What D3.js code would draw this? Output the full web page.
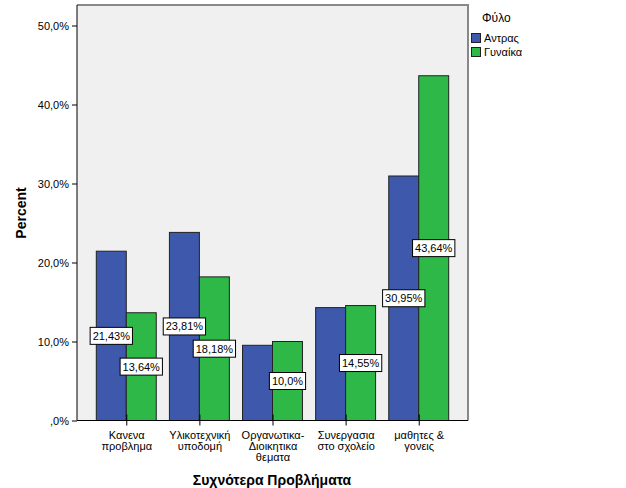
<!DOCTYPE html>
<html><head><meta charset="utf-8">
<script src="https://cdn.jsdelivr.net/npm/d3@7"></script>
<style>
body{margin:0;background:#fff;}
text{font-family:Arial,"Liberation Sans",sans-serif;}
</style></head><body>
<svg id="c" width="626" height="488"></svg>
<script>
const categories = [["Κανενα","προβλημα"],["Υλικοτεχνική","υποδομή"],["Οργανωτικα-","Διοικητικα","θεματα"],["Συνεργασια","στο σχολείο"],["μαθητες &","γονεις"]];
const seriesNames = ["Αντρας","Γυναίκα"];
const maleValues = [21.43, 23.81, 9.52, 14.29, 30.95];
const femaleValues = [13.64, 18.18, 10.0, 14.55, 43.64];
const maleLabels = ["21,43%","23,81%",null,null,"30,95%"];
const femaleLabels = ["13,64%","18,18%","10,0%","14,55%","43,64%"];
const yTicks = [0,10,20,30,40,50];
const yTickLabels = [",0%","10,0%","20,0%","30,0%","40,0%","50,0%"];
const colors = ["#3e58ac","#2eb848"];

const svg = d3.select("#c");
const L=77,R=468,T=5,B=420.5;
const y = d3.scaleLinear().domain([0,50]).range([B,25.5]);
const x = d3.scaleBand().domain(d3.range(categories.length)).range([L,R]).paddingInner(0.18).paddingOuter(0.264);
const xs = d3.scaleBand().domain([0,1]).range([0,x.bandwidth()]);

svg.append("rect").attr("x",L).attr("y",T).attr("width",R-L).attr("height",B-T).attr("fill","#f0f0f0");
// top/right gray border
svg.append("path").attr("d",`M${L},${T}H${R}V${B}`).attr("fill","none").attr("stroke","#888").attr("stroke-width",2);

const series=[maleValues,femaleValues];
const labels=[maleLabels,femaleLabels];
series.forEach((vals,s)=>{
  svg.append("g").selectAll("rect").data(vals).join("rect")
    .attr("x",(d,i)=>x(i)+xs(s)).attr("width",xs.bandwidth())
    .attr("y",d=>y(d)).attr("height",d=>B-y(d))
    .attr("fill",colors[s]).attr("stroke","#222").attr("stroke-width",1);
});

// axes
const yAxis = d3.axisLeft(y).tickValues(yTicks).tickFormat((d,i)=>yTickLabels[i]).tickSize(5).tickPadding(3);
const gy = svg.append("g").attr("transform",`translate(${L},0)`).call(yAxis);
gy.select(".domain").attr("d",`M0,${T}V${B}`).attr("stroke","#000");
gy.selectAll(".tick line").attr("stroke","#000");
gy.selectAll("text").attr("font-size",11).attr("fill","#000").attr("font-family","Arial,'Liberation Sans',sans-serif");

const xc = d3.scalePoint().domain(d3.range(categories.length)).range([x(0)+x.bandwidth()/2, x(4)+x.bandwidth()/2]);
const xAxis = d3.axisBottom(xc).tickSize(5).tickFormat("");
const gx = svg.append("g").attr("transform",`translate(0,${B})`).call(xAxis);
gx.select(".domain").attr("d",`M${L},0H${R}`).attr("stroke","#000");
gx.selectAll(".tick line").attr("stroke","#000").attr("y1",-6);
gx.selectAll(".tick").each(function(d){
  const t=d3.select(this).append("text").attr("fill","#000").attr("font-size",11).attr("text-anchor","middle");
  categories[d].forEach((ln,k)=>t.append("tspan").attr("x",0).attr("y",18+k*11).text(ln));
});

// value labels
series.forEach((vals,s)=>{
  vals.forEach((v,i)=>{
    const lab=labels[s][i]; if(!lab) return;
    const cx=x(i)+xs(s)+xs.bandwidth()/2, cy=(y(v)+B)/2;
    const g=svg.append("g");
    const t=g.append("text").attr("x",cx).attr("y",cy+4).attr("text-anchor","middle").attr("font-size",11).attr("fill","#000").text(lab);
    const w=t.node().getComputedTextLength()+5;
    g.insert("rect","text").attr("x",cx-w/2).attr("y",cy-8.5).attr("width",w).attr("height",17).attr("fill","#fff").attr("stroke","#000").attr("stroke-width",1);
  });
});

// axis titles
svg.append("text").attr("transform","translate(26,213) rotate(-90)").attr("text-anchor","middle").attr("font-size",14).attr("font-weight","bold").text("Percent");
svg.append("text").attr("x",272).attr("y",485).attr("text-anchor","middle").attr("font-size",14).attr("font-weight","bold").text("Συχνότερα Προβλήματα");

// legend
svg.append("text").attr("x",482).attr("y",22).attr("font-size",12).text("Φύλο");
seriesNames.forEach((n,i)=>{
  svg.append("rect").attr("x",471.5).attr("y",33.5+i*14).attr("width",9).attr("height",9).attr("fill",colors[i]).attr("stroke","#222");
  svg.append("text").attr("x",484).attr("y",42+i*14).attr("font-size",11).text(n);
});
</script></body></html>
